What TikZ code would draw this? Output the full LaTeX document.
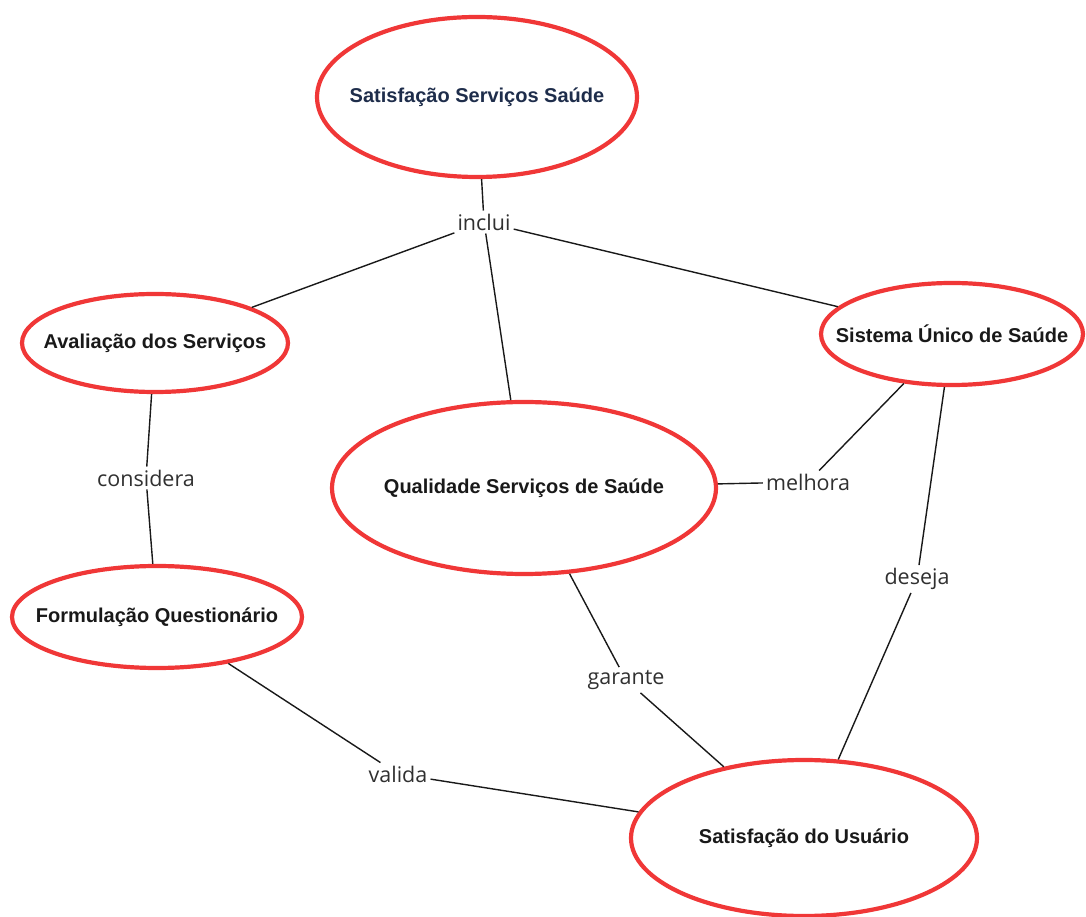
\documentclass[tikz,border=0pt]{standalone}
\usepackage{fontspec}
\setmainfont{Liberation Sans}
\newfontfamily\labfont{Open Sans}
\usetikzlibrary{shapes.geometric}
\definecolor{ringred}{RGB}{240,55,55}
\definecolor{navy}{RGB}{30,45,75}
\definecolor{ink}{RGB}{25,25,25}
\newcommand{\ctext}[1]{\makebox[0pt][c]{#1}}
\begin{document}
\begin{tikzpicture}[x=1pt,y=1pt,
  concept/.style={ellipse, draw=ringred, line width=4.2pt, fill=white, inner sep=0pt,
    font=\fontsize{20}{22}\selectfont\bfseries, text=ink},
  linklabel/.style={inner sep=3pt, font=\labfont\fontsize{21.5}{24}\selectfont, text=ink!90},
  link/.style={draw=ink, line width=1.4pt}]
\useasboundingbox (0,0) rectangle (1086,916);
% concepts (y = 916 - pixel y)
\node[concept, minimum width=320pt, minimum height=160pt, text=navy] (sss) at (477,819) {\ctext{Satisfação Serviços Saúde}};
\node[concept, minimum width=266pt, minimum height=98pt] (ads) at (155,573) {\ctext{Avaliação dos Serviços}};
\node[concept, minimum width=262pt, minimum height=102pt] (sus) at (952,582) {\ctext{Sistema Único de Saúde}};
\node[concept, minimum width=384pt, minimum height=172pt] (qss) at (524,428) {\ctext{Qualidade Serviços de Saúde}};
\node[concept, minimum width=290pt, minimum height=102pt] (fq) at (157,299) {\ctext{Formulação Questionário}};
\node[concept, minimum width=346pt, minimum height=156pt] (su) at (804,78) {\ctext{Satisfação do Usuário}};
% link labels
\node[linklabel] (inclui) at (484,694) {inclui};
\node[linklabel] (considera) at (146,438) {considera};
\node[linklabel] (melhora) at (808,434) {melhora};
\node[linklabel] (deseja) at (917,337) {deseja};
\node[linklabel] (garante) at (626,236) {garante};
\node[linklabel] (valida) at (398,142) {valida};
% connectors
\path[link] (sss) -- (inclui);
\path[link] (inclui) -- (ads);
\path[link] (inclui) -- (qss);
\path[link] (inclui) -- (sus);
\path[link] (ads) -- (considera);
\path[link] (considera) -- (fq);
\path[link] (qss) -- (melhora);
\path[link] (sus) -- (melhora);
\path[link] (sus) -- (deseja);
\path[link] (deseja) -- (su);
\path[link] (qss) -- (garante);
\path[link] (garante) -- (su);
\path[link] (fq) -- (valida);
\path[link] (valida) -- (su);
\end{tikzpicture}
\end{document}
